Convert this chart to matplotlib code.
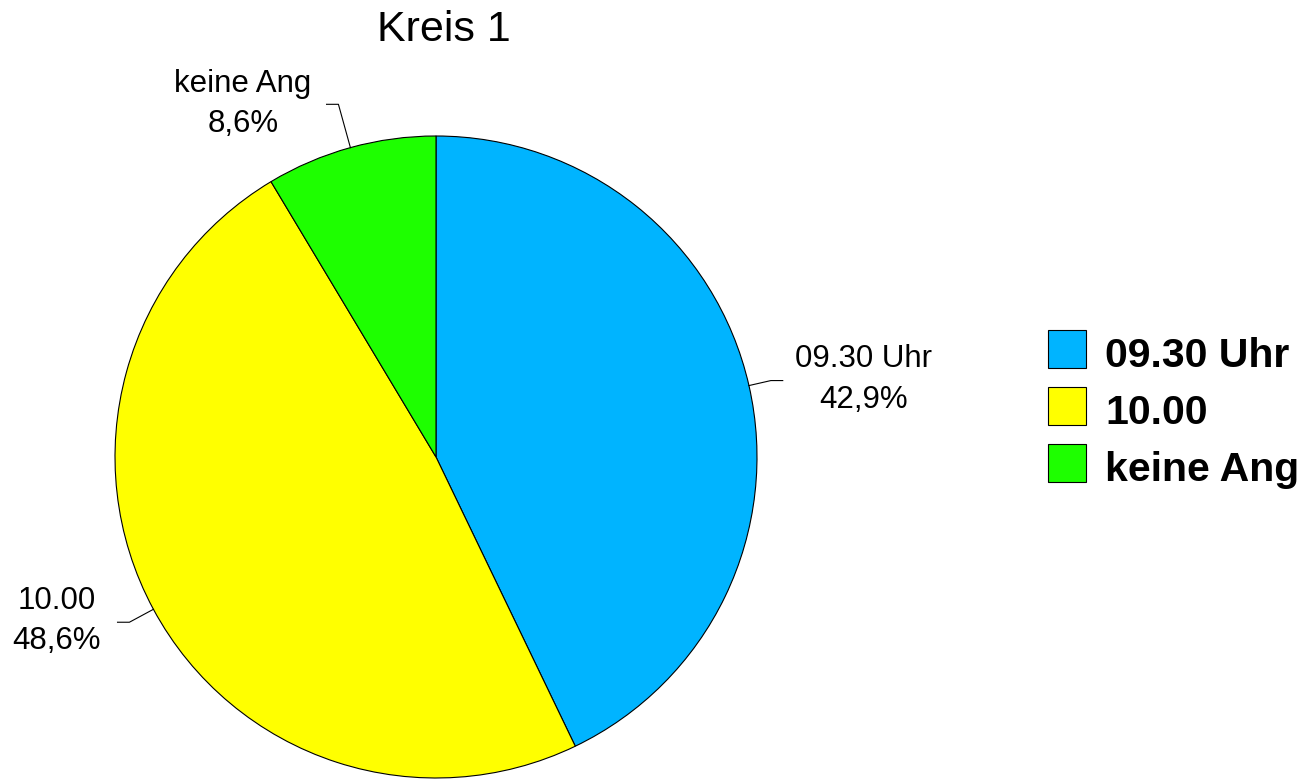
import numpy as np
import matplotlib
matplotlib.use("Agg")
import matplotlib.pyplot as plt
from matplotlib.patches import Rectangle

plt.rcParams['font.family'] = ['Liberation Sans', 'DejaVu Sans']

# Daten
categories = ['09.30 Uhr', '10.00', 'keine Ang']
values = [42.9, 48.6, 8.6]
colors = ['#00B4FF', '#FFFF00', '#1EFF00']
title = 'Kreis 1'

W, H = 1306, 779
fig = plt.figure(figsize=(W / 100, H / 100), dpi=100)

# Kreis: Mittelpunkt (436, 457) px, Radius 321 px
cx, cy, R = 436, 457, 321
ax = fig.add_axes([(cx - R) / W, (H - cy - R) / H, 2 * R / W, 2 * R / H])
wedges, _ = ax.pie(values, colors=colors, startangle=90, counterclock=False,
                   radius=1.0, wedgeprops=dict(edgecolor='black', linewidth=0.8))
ax.set_xlim(-1, 1)
ax.set_ylim(-1, 1)
ax.set_aspect('equal')
ax.axis('off')

# Beschriftungen mit Hinweislinien
elbow_r = [1.07, 1.085, 1.14]       # Knickpunkt, relativ zum Radius
text_pos = [(1.333, 0.241), (-1.181, -0.511), (-0.601, 1.100)]
total = sum(values)
for w, cat, v, er, (tx, ty) in zip(wedges, categories, values, elbow_r, text_pos):
    ang = np.deg2rad((w.theta1 + w.theta2) / 2)
    x0, y0 = np.cos(ang), np.sin(ang)
    x1, y1 = er * x0, er * y0
    x2 = x1 + (0.037 if x0 > 0 else -0.037)
    ax.plot([x0, x1, x2], [y0, y1, y1], color='black', lw=0.8, clip_on=False)
    pct = ('%.1f%%' % (v / total * 100)).replace('.', ',')
    ax.text(tx, ty, cat + '\n' + pct, ha='center', va='center', fontsize=22.5,
            linespacing=1.45, clip_on=False)

fig.text(444 / W, 1 - 30 / H, title, ha='center', va='center', fontsize=31)

# Legende
box = 38
for i, (cat, c) in enumerate(zip(categories, colors)):
    top = 330 + i * 57
    fig.patches.append(Rectangle((1048 / W, 1 - (top + box) / H), box / W, box / H,
                                 transform=fig.transFigure, facecolor=c,
                                 edgecolor='black', linewidth=0.8))
    fig.text(1105 / W, 1 - (top + 37) / H, cat, ha='left', va='baseline',
             fontsize=29.5, fontweight='bold')

fig.savefig('out.png', dpi=100, facecolor='white')
